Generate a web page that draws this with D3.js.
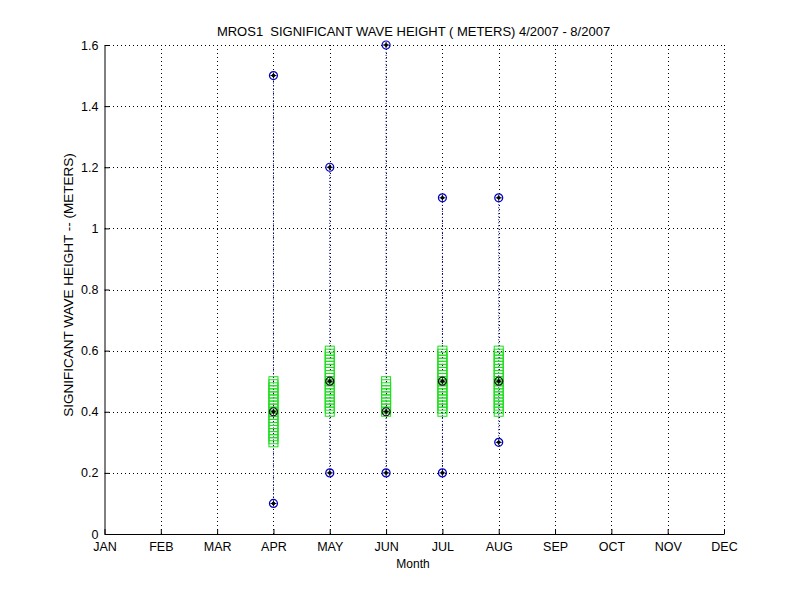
<!DOCTYPE html>
<html>
<head>
<meta charset="utf-8">
<script src="https://cdn.jsdelivr.net/npm/d3@7"></script>
<style>
  body { margin: 0; background: #fff; }
  text { font-family: "Liberation Sans", Arial, sans-serif; fill: #000; }
</style>
</head>
<body>
<div id="chart"></div>
<script>
// month labels on the x axis
const months = ["JAN", "FEB", "MAR", "APR", "MAY", "JUN", "JUL", "AUG", "SEP", "OCT", "NOV", "DEC"];
const yTicks = [0, 0.2, 0.4, 0.6, 0.8, 1, 1.2, 1.4, 1.6];

// monthly statistics (meters)
const dataMonths = ["APR", "MAY", "JUN", "JUL", "AUG"];
const minVals = [0.1, 0.2, 0.2, 0.2, 0.3];
const maxVals = [1.5, 1.2, 1.6, 1.1, 1.1];
const medVals = [0.4, 0.5, 0.4, 0.5, 0.5];
const q1Vals = [0.3, 0.4, 0.4, 0.4, 0.4];
const q3Vals = [0.5, 0.6, 0.5, 0.6, 0.6];

const svg = d3.select("#chart")
    .append("svg")
    .attr("width", 800)
    .attr("height", 600);

svg.append("rect")
    .attr("width", 800)
    .attr("height", 600)
    .attr("fill", "white");

const plotLeft = 104.5, plotRight = 724, plotTop = 45, plotBottom = 534;

// x axis scale
const xScale = d3.scalePoint().domain(months).range([plotLeft, plotRight]);

// y axis scale
const yScale = d3.scaleLinear().domain([0, 1.6]).range([plotBottom, plotTop]);

// grid
const grid = svg.append("g")
    .attr("stroke", "#000")
    .attr("stroke-width", 1)
    .attr("stroke-dasharray", "1,3")
    .attr("shape-rendering", "crispEdges");

grid.selectAll(".vg")
    .data(months.slice(1))
    .enter().append("line")
    .attr("x1", d => Math.round(xScale(d)) + 0.5)
    .attr("x2", d => Math.round(xScale(d)) + 0.5)
    .attr("y1", plotTop)
    .attr("y2", plotBottom);

grid.selectAll(".hg")
    .data(yTicks.slice(1))
    .enter().append("line")
    .attr("x1", plotLeft)
    .attr("x2", plotRight)
    .attr("y1", d => Math.round(yScale(d)) + 0.5)
    .attr("y2", d => Math.round(yScale(d)) + 0.5);

// axes (MATLAB style: ticks inside)
const xAxis = d3.axisBottom(xScale).tickSizeInner(-5).tickSizeOuter(0).tickPadding(8.5);
const yAxis = d3.axisLeft(yScale).tickValues(yTicks).tickSizeInner(-5).tickSizeOuter(0)
    .tickPadding(6).tickFormat(d => d3.format("~g")(d));

const gx = svg.append("g")
    .attr("transform", `translate(0,${plotBottom})`)
    .call(xAxis);
const gy = svg.append("g")
    .attr("transform", `translate(${plotLeft},0)`)
    .call(yAxis);

[gx, gy].forEach(g => {
    g.selectAll("path, line").attr("stroke", "#000");
    g.selectAll("text").attr("font-size", 12.5).attr("font-family", "Liberation Sans, Arial, sans-serif");
});

// whisker lines
const stats = dataMonths.map((m, i) => ({
    m: m, min: minVals[i], max: maxVals[i], med: medVals[i], q1: q1Vals[i], q3: q3Vals[i]
}));

svg.selectAll(".whisk")
    .data(stats)
    .enter().append("line")
    .attr("x1", d => xScale(d.m))
    .attr("x2", d => xScale(d.m))
    .attr("y1", d => yScale(d.min))
    .attr("y2", d => yScale(d.max))
    .attr("stroke", "#00008b")
    .attr("stroke-width", 1)
    .attr("stroke-dasharray", "1,2");

// green box: stacked square markers every 0.01 between q1 and q3
stats.forEach(d => {
    const n = Math.round((d.q3 - d.q1) / 0.01);
    const vals = d3.range(n + 1).map(k => d.q1 + k * 0.01);
    svg.append("g").selectAll("rect")
        .data(vals)
        .enter().append("rect")
        .attr("x", xScale(d.m) - 4.5)
        .attr("y", v => yScale(v) - 4.5)
        .attr("width", 9)
        .attr("height", 9)
        .attr("fill", "none")
        .attr("stroke", "#22dd22")
        .attr("stroke-width", 1);
});

// circle markers
function marker(x, y, ringColor) {
    const g = svg.append("g").attr("transform", `translate(${x},${y})`);
    g.append("circle").attr("r", 4).attr("fill", "none")
        .attr("stroke", ringColor).attr("stroke-width", 1.2);
    g.append("circle").attr("r", 1.8).attr("fill", "#000");
    g.append("line").attr("x1", -3).attr("x2", 3).attr("stroke", "#000").attr("stroke-width", 1);
    g.append("line").attr("y1", -3).attr("y2", 3).attr("stroke", "#000").attr("stroke-width", 1);
}

stats.forEach(d => {
    marker(xScale(d.m), yScale(d.min), "#0000cc");
    marker(xScale(d.m), yScale(d.max), "#0000cc");
    marker(xScale(d.m), yScale(d.med), "#111");
});

// title and labels
svg.append("text")
    .attr("x", 413.5)
    .attr("y", 35.5)
    .attr("text-anchor", "middle")
    .attr("font-size", 13)
    .style("white-space", "pre")
    .text("MROS1  SIGNIFICANT WAVE HEIGHT ( METERS) 4/2007 - 8/2007");

svg.append("text")
    .attr("x", 413)
    .attr("y", 567.5)
    .attr("text-anchor", "middle")
    .attr("font-size", 12)
    .text("Month");

svg.append("text")
    .attr("transform", "translate(72.5,285) rotate(-90)")
    .attr("text-anchor", "middle")
    .attr("font-size", 13.5)
    .text("SIGNIFICANT WAVE HEIGHT -- (METERS)");
</script>
</body>
</html>
